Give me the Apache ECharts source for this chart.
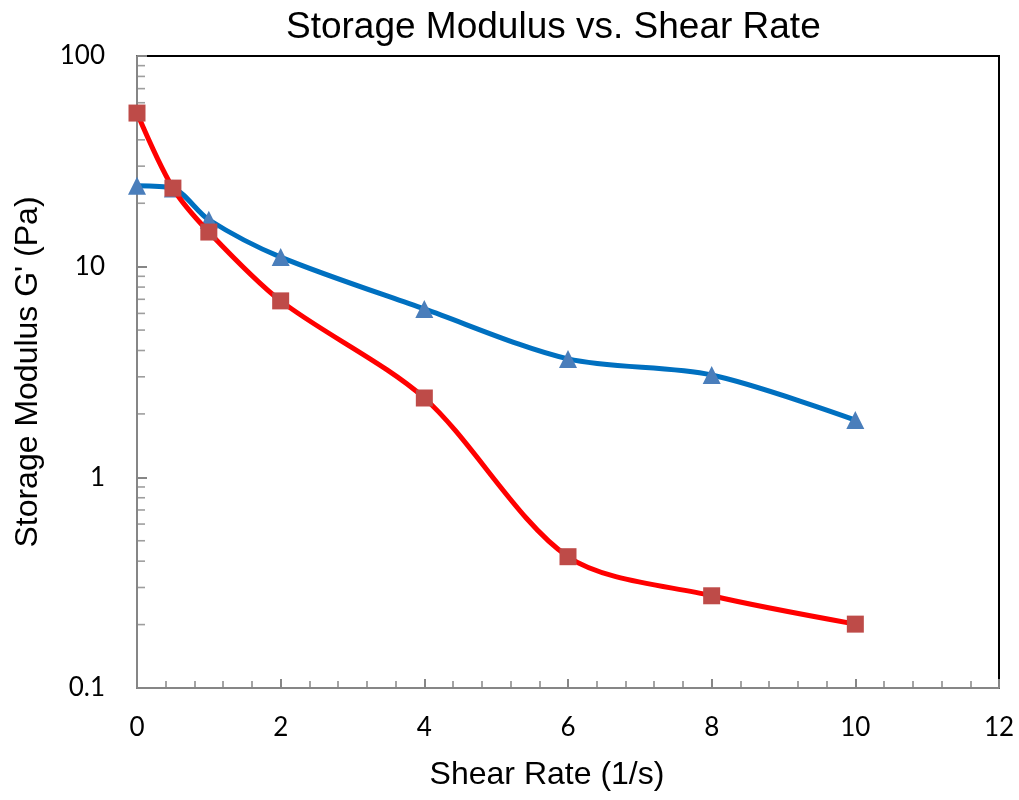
<!DOCTYPE html>
<html>
<head>
<meta charset="utf-8">
<script src="https://cdn.jsdelivr.net/npm/echarts@6/dist/echarts.min.js"></script>
<style>html,body{margin:0;padding:0;background:#fff}#c{width:1019px;height:800px}</style>
</head>
<body>
<div id="c"></div>
<script>
var shearRate = [0, 0.5, 1, 2, 4, 6, 8, 10];
var seriesA = [24.2, 23.5, 16.7, 11.1, 6.3, 3.65, 3.06, 1.87];   // blue triangles
var seriesB = [53.6, 23.6, 14.6, 6.88, 2.38, 0.42, 0.274, 0.201]; // red squares
var yMinorTicks = [0.2,0.3,0.4,0.5,0.6,0.7,0.8,0.9,2,3,4,5,6,7,8,9,20,30,40,50,60,70,80,90];

var FONT = 'Liberation Sans';
var TICKFONT = 'Lato';
function pairs(xs, ys){ return xs.map(function(x,i){ return [x, ys[i]]; }); }

var chart = echarts.init(document.getElementById('c'), null, {renderer:'canvas'});
chart.setOption({
  backgroundColor: '#fff',
  animation: false,
  title: {
    text: 'Storage Modulus vs. Shear Rate',
    left: 281, top: 4,
    textStyle: {fontFamily: FONT, fontSize: 37, fontWeight: 'normal', color: '#000'}
  },
  grid: {left: 137, right: 20, top: 56, bottom: 112, show: true, borderColor: '#000', borderWidth: 2, backgroundColor: 'transparent'},
  xAxis: {
    type: 'value', min: 0, max: 12, interval: 2,
    name: 'Shear Rate (1/s)', nameLocation: 'middle', nameGap: 71,
    nameTextStyle: {fontFamily: FONT, fontSize: 32, color: '#000', padding: [0, 42, 0, 0]},
    axisLine: {lineStyle: {color: '#868686', width: 2}},
    axisTick: {inside: true, length: 9, lineStyle: {color: '#868686', width: 2}},
    minorTick: {show: true, splitNumber: 5, length: 7, lineStyle: {color: '#868686', width: 1.5}},
    axisLabel: {fontFamily: TICKFONT, fontSize: 26, color: '#000', margin: 27},
    splitLine: {show: false}
  },
  yAxis: {
    type: 'log', logBase: 10, min: 0.1, max: 100,
    name: "Storage Modulus G' (Pa)", nameLocation: 'middle', nameGap: 93,
    nameTextStyle: {fontFamily: FONT, fontSize: 32, color: '#000'},
    axisLine: {lineStyle: {color: '#868686', width: 2}},
    axisTick: {inside: true, length: 10, lineStyle: {color: '#868686', width: 2}},
    axisLabel: {fontFamily: TICKFONT, fontSize: 26, color: '#000', margin: 32,
      formatter: function(v){ return String(+v.toPrecision(3)); }},
    splitLine: {show: false}
  },
  series: [
    {
      type: 'scatter', silent: true, z: 1,
      data: yMinorTicks.map(function(v){ return [0, v]; }),
      symbol: 'rect', symbolSize: [8, 1.6], symbolOffset: [4, 0],
      itemStyle: {color: '#868686'}
    },
    {
      name: 'A', type: 'line', smooth: 0.3, z: 3,
      data: pairs(shearRate, seriesA),
      lineStyle: {color: '#0070C0', width: 5},
      symbol: 'triangle', symbolSize: 18, showAllSymbol: true,
      itemStyle: {color: '#4A7EBB', borderWidth: 0}
    },
    {
      name: 'B', type: 'line', smooth: 0.3, z: 4,
      data: pairs(shearRate, seriesB),
      lineStyle: {color: '#FF0000', width: 5},
      symbol: 'rect', symbolSize: 17, showAllSymbol: true,
      itemStyle: {color: '#BE4B48', borderWidth: 0}
    }
  ]
});
</script>
</body>
</html>
